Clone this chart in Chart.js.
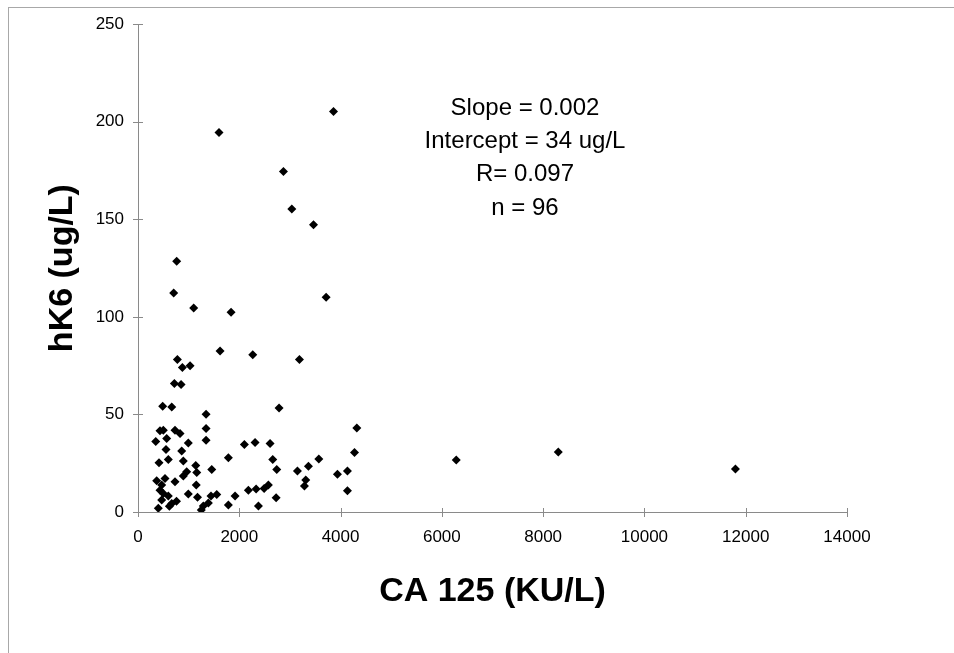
<!DOCTYPE html>
<html>
<head>
<meta charset="utf-8">
<script src="https://cdn.jsdelivr.net/npm/chart.js@4.4.0/dist/chart.umd.min.js"></script>
<style>
html, body { margin: 0; padding: 0; background: #fff; }
#wrap { position: relative; width: 954px; height: 653px; overflow: hidden; }
#frame { position: absolute; left: 8px; top: 7px; right: -2px; bottom: -2px; border-top: 1px solid #a8a8a8; border-left: 1px solid #a8a8a8; }
canvas { position: absolute; left: 0; top: 0; }
</style>
</head>
<body>
<div id="wrap">
	<div id="frame"></div>
	<canvas id="chart" width="954" height="653"></canvas>
</div>
<script>
// CA 125 (KU/L) vs hK6 (ug/L)
const caValues = [
	3860, 1600, 2872, 3037, 3465, 764, 705, 3715, 1100, 1838,
	1620, 2266, 3188, 777, 876, 1028, 718, 850, 488, 666,
	1344, 2786, 1344, 4321, 435, 500, 731, 830, 1344, 350,
	567, 994, 2100, 2312, 2608, 553, 863, 4275, 415, 599,
	895, 1785, 2661, 3570, 1140, 1456, 962, 1160, 895, 2740,
	3365, 3148, 4136, 3938, 369, 533, 468, 731, 1150, 3313,
	3286, 435, 2180, 2332, 2490, 2575, 4136, 599, 994, 1175,
	1442, 1555, 1917, 2727, 468, 666, 401, 1390, 1290, 1250,
	1785, 2378, 760, 620, 500,
	6284, 8299, 11797
];
const hk6Values = [
	205.2, 194.5, 174.5, 155.3, 147.2, 128.5, 112.3, 110.1, 104.5, 102.4,
	82.5, 80.6, 78.1, 78.1, 74.1, 75.0, 65.8, 65.3, 54.2, 53.8,
	50.1, 53.3, 42.8, 43.1, 41.6, 41.9, 41.9, 40.2, 36.8, 36.1,
	37.7, 35.4, 34.6, 35.6, 35.1, 32.0, 31.2, 30.5, 25.2, 26.9,
	26.1, 27.8, 26.9, 27.1, 23.8, 21.8, 20.6, 20.3, 18.4, 21.8,
	23.5, 21.0, 21.0, 19.3, 16.0, 17.2, 13.8, 15.5, 13.8, 16.4,
	13.3, 11.2, 11.2, 11.8, 12.1, 13.8, 10.9, 8.2, 9.2, 7.5,
	8.2, 9.0, 8.2, 7.3, 6.1, 4.4, 1.9, 4.6, 3.1, 1.0,
	3.6, 3.1, 5.5, 3.0, 9.5,
	26.6, 30.7, 22.0
];

const xTicks = [0, 2000, 4000, 6000, 8000, 10000, 12000, 14000];
const yTicks = [0, 50, 100, 150, 200, 250];
const statLines = ["Slope = 0.002", "Intercept = 34 ug/L", "R= 0.097", "n = 96"];

const axisColor = "#8a8a8a";
const fontFam = "'Liberation Sans', Arial, sans-serif";

// tick marks that cross the axis line
const crossTicks = {
	id: "crossTicks",
	beforeDatasetsDraw(chart) {
		const ctx = chart.ctx;
		const xs = chart.scales.x;
		const ys = chart.scales.y;
		ctx.save();
		ctx.strokeStyle = axisColor;
		ctx.lineWidth = 1;
		ctx.beginPath();
		xs.ticks.forEach((t, i) => {
			const px = Math.round(xs.getPixelForTick(i)) + 0.5;
			ctx.moveTo(px, ys.bottom - 4);
			ctx.lineTo(px, ys.bottom + 5);
		});
		ys.ticks.forEach((t, i) => {
			const py = Math.round(ys.getPixelForTick(i)) + 0.5;
			ctx.moveTo(xs.left - 5, py);
			ctx.lineTo(xs.left + 5, py);
		});
		ctx.stroke();
		ctx.restore();
	}
};

// regression stats text
const statsText = {
	id: "statsText",
	afterDraw(chart) {
		const ctx = chart.ctx;
		ctx.save();
		ctx.fillStyle = "#000";
		ctx.font = "24px " + fontFam;
		ctx.textAlign = "center";
		ctx.textBaseline = "middle";
		statLines.forEach((line, i) => {
			ctx.fillText(line, 525, 108 + i * 33.3);
		});
		ctx.restore();
	}
};

const points = caValues.map((x, i) => ({ x: x, y: hk6Values[i] }));

const ctx1 = document.getElementById("chart");
const config1 = {
	type: "scatter",
	data: {
		datasets: [{
			label: "hK6",
			data: points,
			pointStyle: "rectRot",
			pointRadius: 4.5,
			pointHoverRadius: 4.5,
			backgroundColor: "#000",
			borderWidth: 0
		}]
	},
	options: {
		responsive: false,
		devicePixelRatio: 1,
		animation: false,
		layout: {
			padding: { left: 0, right: 107, top: 23, bottom: 0 }
		},
		scales: {
			x: {
				type: "linear",
				min: 0,
				max: 14000,
				afterBuildTicks: (scale) => {
					scale.ticks = xTicks.map((v) => ({ value: v }));
				},
				afterFit: (scale) => { scale.height = 141; },
				grid: { display: true, drawOnChartArea: false, drawTicks: false },
				border: { display: true, color: axisColor, width: 1 },
				ticks: {
					color: "#000",
					padding: 15,
					maxRotation: 0,
					font: { family: fontFam, size: 17 },
					callback: (value) => String(value)
				},
				title: {
					display: true,
					text: "CA 125 (KU/L)",
					color: "#000",
					font: { family: fontFam, size: 34, weight: "bold" },
					padding: { top: 0, bottom: 41 }
				}
			},
			y: {
				type: "linear",
				min: 0,
				max: 250,
				afterBuildTicks: (scale) => {
					scale.ticks = yTicks.map((v) => ({ value: v }));
				},
				afterFit: (scale) => { scale.width = 138; },
				grid: { display: true, drawOnChartArea: false, drawTicks: false },
				border: { display: true, color: axisColor, width: 1 },
				ticks: {
					color: "#000",
					padding: 14,
					font: { family: fontFam, size: 17 },
					callback: (value) => String(value)
				},
				title: {
					display: true,
					text: "hK6 (ug/L)",
					color: "#000",
					font: { family: fontFam, size: 34, weight: "bold" },
					padding: { top: 42, bottom: 0 }
				}
			}
		},
		plugins: {
			legend: { display: false },
			tooltip: { enabled: false }
		}
	},
	plugins: [crossTicks, statsText]
};
const chart1 = new Chart(ctx1, config1);
</script>
</body>
</html>
